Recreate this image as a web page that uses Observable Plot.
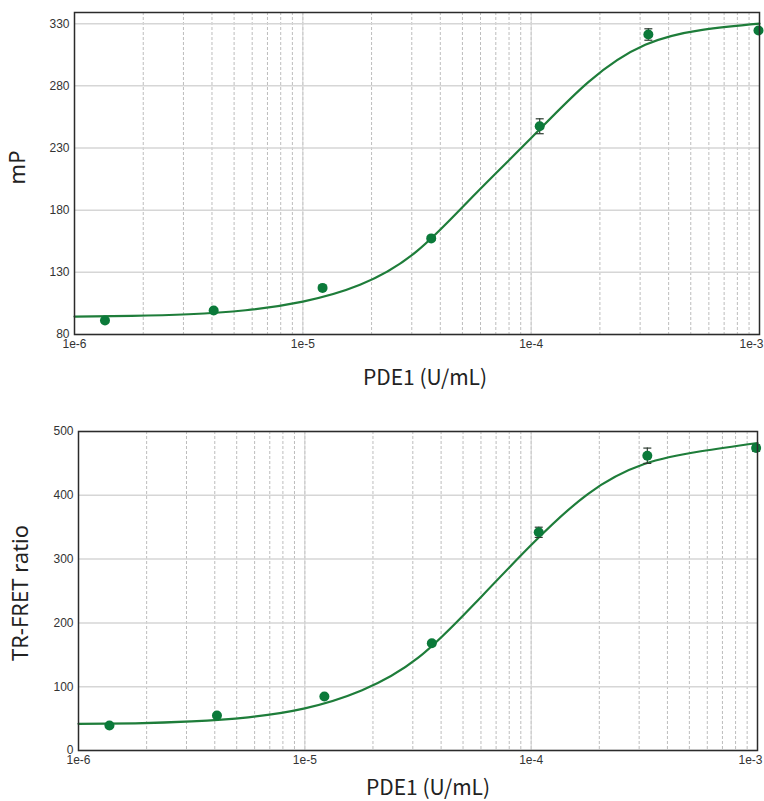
<!DOCTYPE html>
<html>
<head>
<meta charset="utf-8">
<script src="https://cdn.jsdelivr.net/npm/d3@7"></script>
<script src="https://cdn.jsdelivr.net/npm/@observablehq/plot@0.6"></script>
<style>
  html, body { margin: 0; padding: 0; background: #fff; }
  #chart svg { display: block; }
</style>
</head>
<body>
<div id="chart"></div>
<script>
// ---- data ----
const xDecades = [1e-6, 1e-5, 1e-4, 1e-3];
const xTickLabels = ["1e-6", "1e-5", "1e-4", "1e-3"];
const xLabel = "PDE1 (U/mL)";

// Top panel: mP
const mpLabel = "mP";
const mpTicks = [80, 130, 180, 230, 280, 330];
const mpPointX = [1.36e-6, 4.07e-6, 1.22e-5, 3.65e-5, 1.09e-4, 3.26e-4, 9.9e-4];
const mpPointY = [91.2, 99.3, 117.5, 157.3, 247.5, 321.3, 324.5];
const mpPointErr = [1, 1, 1, 1.5, 6, 4.6, 1.5];
// fitted curve, read at quarter-decade steps
const mpCurveX = [1e-6, 1.78e-6, 3.16e-6, 5.62e-6, 1e-5, 1.78e-5, 3.16e-5, 5.62e-5, 1e-4, 1.78e-4, 3.16e-4, 5.62e-4, 1e-3];
const mpCurveY = [94.4, 95.0, 96.3, 99.5, 106.5, 120, 147, 192, 238, 283, 313, 325, 330];

// Bottom panel: TR-FRET ratio
const trLabel = "TR-FRET ratio";
const trTicks = [0, 100, 200, 300, 400, 500];
const trPointX = [1.37e-6, 4.09e-6, 1.22e-5, 3.64e-5, 1.08e-4, 3.26e-4, 9.86e-4];
const trPointY = [39.2, 54.9, 84.6, 168.2, 342, 462, 474];
const trPointErr = [2, 2, 2, 3, 8, 12, 5];
const trCurveX = [1e-6, 1.78e-6, 3.16e-6, 5.62e-6, 1e-5, 1.78e-5, 3.16e-5, 5.62e-5, 1e-4, 1.78e-4, 3.16e-4, 5.62e-4, 1e-3];
const trCurveY = [41.8, 42.6, 45.5, 52, 66, 94, 145, 230, 322, 402, 449, 469, 482];

// ---- styling ----
const green = "#0b7a3a";
const lineGreen = "#1e7d3a";
const capSymbol = {
  draw(context, size) {
    const w = Math.sqrt(size / Math.PI);
    context.moveTo(-w, 0);
    context.lineTo(w, 0);
  }
};

function panel({height, marginTop, marginBottom, marginLeft, marginRight, yDomain, yTicks, yLabel,
                px, py, perr, cx, cy, xLabelDx, xLabelDy, yLabelDx, yLabelDy, lastDx}) {
  const points = px.map((x, i) => ({x, y: py[i], lo: py[i] - perr[i], hi: py[i] + perr[i]}));
  const curve = cx.map((x, i) => ({x, y: cy[i]}));
  return Plot.plot({
    width: 764,
    height,
    marginTop, marginBottom, marginLeft, marginRight,
    style: {fontFamily: "Liberation Sans, Arial, sans-serif", fontSize: "12px", color: "#333", background: "#fff", overflow: "visible"},
    x: {type: "log", domain: [1e-6, 1e-3]},
    y: {domain: yDomain},
    marks: [
      Plot.gridX({stroke: "#bdbdbd", strokeOpacity: 1, strokeDasharray: "3,2", strokeWidth: 1}),
      Plot.gridX({ticks: xDecades, stroke: "#cfcfcf", strokeOpacity: 1, strokeWidth: 1}),
      Plot.gridY({ticks: yTicks, stroke: "#d6d6d6", strokeOpacity: 1, strokeWidth: 1.5}),
      Plot.line(curve, {x: "x", y: "y", stroke: lineGreen, strokeWidth: 2.2, curve: "natural"}),
      Plot.ruleX(points, {x: "x", y1: "lo", y2: "hi", stroke: "#2d3b30", strokeWidth: 1.2}),
      Plot.dot(points, {x: "x", y: "lo", symbol: capSymbol, r: 4, stroke: "#2d3b30", strokeWidth: 1.2, fill: "none"}),
      Plot.dot(points, {x: "x", y: "hi", symbol: capSymbol, r: 4, stroke: "#2d3b30", strokeWidth: 1.2, fill: "none"}),
      Plot.dot(points, {x: "x", y: "y", r: 5, fill: green, stroke: "none"}),
      Plot.frame({stroke: "#2b2b2b", strokeWidth: 1.5}),
      Plot.axisY({ticks: yTicks, tickSize: 0, tickPadding: 5, label: null, fontSize: 12}),
      Plot.axisX({ticks: xDecades.slice(0, 3), tickSize: 0, tickPadding: 5, label: null, fontSize: 12,
                  tickFormat: d => xTickLabels[xDecades.indexOf(d)]}),
      Plot.axisX({ticks: xDecades.slice(3), tickSize: 0, tickPadding: 5, label: null, fontSize: 12,
                  textAnchor: "end", dx: lastDx,
                  tickFormat: d => xTickLabels[xDecades.indexOf(d)]}),
      Plot.text([xLabel], {frameAnchor: "bottom", dx: xLabelDx, dy: xLabelDy, lineAnchor: "middle",
                  fontSize: 21, fontFamily: "Noto Sans CJK SC, Noto Sans, sans-serif", fill: "#222"}),
      Plot.text([yLabel], {frameAnchor: "left", dx: yLabelDx, dy: yLabelDy, rotate: -90, lineAnchor: "middle",
                  textAnchor: "middle", fontSize: 22, fontFamily: "Noto Sans, sans-serif", fill: "#222"})
    ]
  });
}

const topChart = panel({
  height: 400, marginTop: 12, marginBottom: 66, marginLeft: 74, marginRight: 5,
  yDomain: [80, 339], yTicks: mpTicks, yLabel: mpLabel,
  px: mpPointX, py: mpPointY, perr: mpPointErr, cx: mpCurveX, cy: mpCurveY,
  xLabelDx: 8, xLabelDy: 44, yLabelDx: -57, yLabelDy: -6, lastDx: 4
});
const bottomChart = panel({
  height: 401, marginTop: 31, marginBottom: 51, marginLeft: 78, marginRight: 7,
  yDomain: [0, 500], yTicks: trTicks, yLabel: trLabel,
  px: trPointX, py: trPointY, perr: trPointErr, cx: trCurveX, cy: trCurveY,
  xLabelDx: 10, xLabelDy: 38, yLabelDx: -58, yLabelDy: 2, lastDx: 5
});
document.getElementById("chart").append(topChart, bottomChart);
</script>
</body>
</html>
